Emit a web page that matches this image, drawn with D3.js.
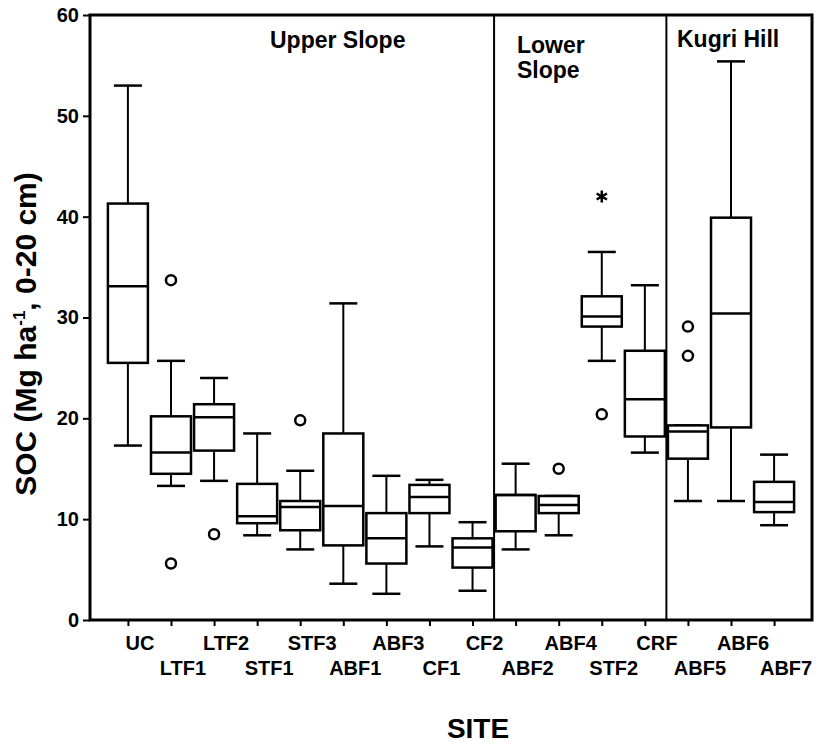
<!DOCTYPE html>
<html>
<head>
<meta charset="utf-8">
<title>SOC by site</title>
<style>
body { margin: 0; background: #fff; }
svg { font-family: "Liberation Sans", Arial, sans-serif; font-weight: bold; }
.axis path { display: none; }
.axis line { stroke: #000; stroke-width: 2; }
</style>
<script src="https://d3js.org/d3.v7.min.js"></script>
</head>
<body>
<script>
// sites in plotting order
var sites = ["UC", "LTF1", "LTF2", "STF1", "STF3", "ABF1", "ABF3", "CF1", "CF2",
             "ABF2", "ABF4", "STF2", "CRF", "ABF5", "ABF6", "ABF7"];
// five-number summaries, Mg/ha
var whiskerLow  = [17.3, 13.3, 13.8,  8.4,  7.0,  3.6,  2.6,  7.3, 2.9,  7.0,  8.4, 25.7, 16.6, 11.8, 11.8,  9.4];
var q1          = [25.5, 14.5, 16.8,  9.6,  8.9,  7.4,  5.6, 10.6, 5.2,  8.8, 10.6, 29.1, 18.2, 16.0, 19.1, 10.7];
var median      = [33.1, 16.6, 20.1, 10.3, 11.2, 11.3,  8.1, 12.2, 7.2, 12.4, 11.4, 30.1, 21.9, 18.7, 30.4, 11.7];
var q3          = [41.3, 20.2, 21.4, 13.5, 11.8, 18.5, 10.6, 13.4, 8.1, 12.4, 12.3, 32.1, 26.7, 19.3, 39.9, 13.7];
var whiskerHigh = [53.0, 25.7, 24.0, 18.5, 14.8, 31.4, 14.3, 13.9, 9.7, 15.5, 12.3, 36.5, 33.2, 19.3, 55.4, 16.4];
// outliers (circles) and extremes (asterisks)
var outlierSite  = ["LTF1", "LTF1", "LTF2", "STF3", "ABF4", "STF2", "ABF5", "ABF5"];
var outlierValue = [33.7, 5.6, 8.5, 19.8, 15.0, 20.4, 29.1, 26.2];
var extremeSite  = ["STF2"];
var extremeValue = [42.0];
// landscape position groups: last site of each group
var groupNames = ["Upper Slope", "Lower Slope", "Kugri Hill"];
var groupEnds  = ["CF2", "CRF", "ABF7"];
var yTicks = [0, 10, 20, 30, 40, 50, 60];

var pLeft = 90, pRight = 812, pTop = 15, pBottom = 620;

var svg = d3.select("body").append("svg")
    .attr("width", 825)
    .attr("height", 750);

var x = d3.scalePoint().domain(sites).range([pLeft, pRight]).padding(0.88);
var y = d3.scaleLinear().domain([0, 60]).range([pBottom, pTop]);
var step = x.step();

var boxes = sites.map(function(s, i) {
  return {site: s, lo: whiskerLow[i], q1: q1[i], med: median[i], q3: q3[i], hi: whiskerHigh[i]};
});

var boxW = 40, capW = 28;

// group dividers
var dividers = groupEnds.slice(0, -1).map(function(s) { return x(s) + step / 2; });
svg.selectAll("line.divider")
    .data(dividers)
  .enter().append("line")
    .attr("class", "divider")
    .attr("x1", function(d) { return d; })
    .attr("x2", function(d) { return d; })
    .attr("y1", pTop)
    .attr("y2", pBottom)
    .attr("stroke", "#000")
    .attr("stroke-width", 2);

var g = svg.selectAll("g.box")
    .data(boxes)
  .enter().append("g")
    .attr("class", "box")
    .attr("transform", function(d) { return "translate(" + x(d.site) + ",0)"; });

// whiskers
g.append("line")
    .attr("y1", function(d) { return y(d.hi); })
    .attr("y2", function(d) { return y(d.q3); })
    .attr("stroke", "#000").attr("stroke-width", 2);
g.append("line")
    .attr("y1", function(d) { return y(d.q1); })
    .attr("y2", function(d) { return y(d.lo); })
    .attr("stroke", "#000").attr("stroke-width", 2);
g.append("line")
    .attr("x1", -capW / 2).attr("x2", capW / 2)
    .attr("y1", function(d) { return y(d.hi); })
    .attr("y2", function(d) { return y(d.hi); })
    .attr("stroke", "#000").attr("stroke-width", 2.5);
g.append("line")
    .attr("x1", -capW / 2).attr("x2", capW / 2)
    .attr("y1", function(d) { return y(d.lo); })
    .attr("y2", function(d) { return y(d.lo); })
    .attr("stroke", "#000").attr("stroke-width", 2.5);

g.append("rect")
    .attr("x", -boxW / 2)
    .attr("width", boxW)
    .attr("y", function(d) { return y(d.q3); })
    .attr("height", function(d) { return y(d.q1) - y(d.q3); })
    .attr("fill", "#fff")
    .attr("stroke", "#000")
    .attr("stroke-width", 2.5);
g.append("line")
    .attr("x1", -boxW / 2).attr("x2", boxW / 2)
    .attr("y1", function(d) { return y(d.med); })
    .attr("y2", function(d) { return y(d.med); })
    .attr("stroke", "#000").attr("stroke-width", 2.5);

svg.selectAll("circle.outlier")
    .data(outlierValue)
  .enter().append("circle")
    .attr("class", "outlier")
    .attr("cx", function(d, i) { return x(outlierSite[i]); })
    .attr("cy", function(d) { return y(d); })
    .attr("r", 5)
    .attr("fill", "none")
    .attr("stroke", "#000")
    .attr("stroke-width", 2.5);

svg.selectAll("path.extreme")
    .data(extremeValue)
  .enter().append("path")
    .attr("class", "extreme")
    .attr("d", d3.symbol().type(d3.symbolAsterisk).size(100))
    .attr("transform", function(d, i) { return "translate(" + x(extremeSite[i]) + "," + y(d) + ")"; })
    .attr("fill", "none")
    .attr("stroke", "#000")
    .attr("stroke-width", 2.5);

// frame
svg.append("rect")
    .attr("x", pLeft).attr("y", pTop)
    .attr("width", pRight - pLeft).attr("height", pBottom - pTop)
    .attr("fill", "none")
    .attr("stroke", "#000")
    .attr("stroke-width", 3);

// y axis
var yAxis = svg.append("g")
    .attr("class", "axis")
    .attr("transform", "translate(" + pLeft + ",0)")
    .call(d3.axisLeft(y).tickValues(yTicks).tickSize(7).tickPadding(4));
yAxis.selectAll("text")
    .attr("font-size", "20px")
    .attr("font-family", "Liberation Sans, Arial, sans-serif")
    .attr("font-weight", "bold")
    .attr("fill", "#000");

// x axis ticks
svg.append("g")
    .attr("class", "axis")
    .attr("transform", "translate(0," + pBottom + ")")
    .call(d3.axisBottom(x).tickSize(6).tickFormat(""));

svg.selectAll("text.site")
    .data(sites)
  .enter().append("text")
    .attr("class", "site")
    .attr("x", function(d) { return x(d) + 12; })
    .attr("y", function(d, i) { return i % 2 == 0 ? 650 : 675; })
    .attr("text-anchor", "middle")
    .attr("font-size", "20px")
    .text(function(d) { return d; });

// group titles
svg.append("text").attr("x", 270).attr("y", 48).attr("font-size", "23px").text(groupNames[0]);
svg.append("text").attr("x", 517).attr("y", 53).attr("font-size", "23px").text("Lower");
svg.append("text").attr("x", 517).attr("y", 78).attr("font-size", "23px").text("Slope");
svg.append("text").attr("x", 677).attr("y", 47).attr("font-size", "23px").text(groupNames[2]);

// axis titles
var yl = svg.append("text")
    .attr("transform", "translate(36,334) rotate(-90)")
    .attr("text-anchor", "middle")
    .attr("font-size", "30px");
yl.append("tspan").text("SOC (Mg ha");
yl.append("tspan").attr("font-size", "17px").attr("dy", "-11").text("-1");
yl.append("tspan").attr("dy", "11").text(", 0-20 cm)");

svg.append("text")
    .attr("x", 478)
    .attr("y", 738)
    .attr("text-anchor", "middle")
    .attr("font-size", "28px")
    .text("SITE");
</script>
</body>
</html>
